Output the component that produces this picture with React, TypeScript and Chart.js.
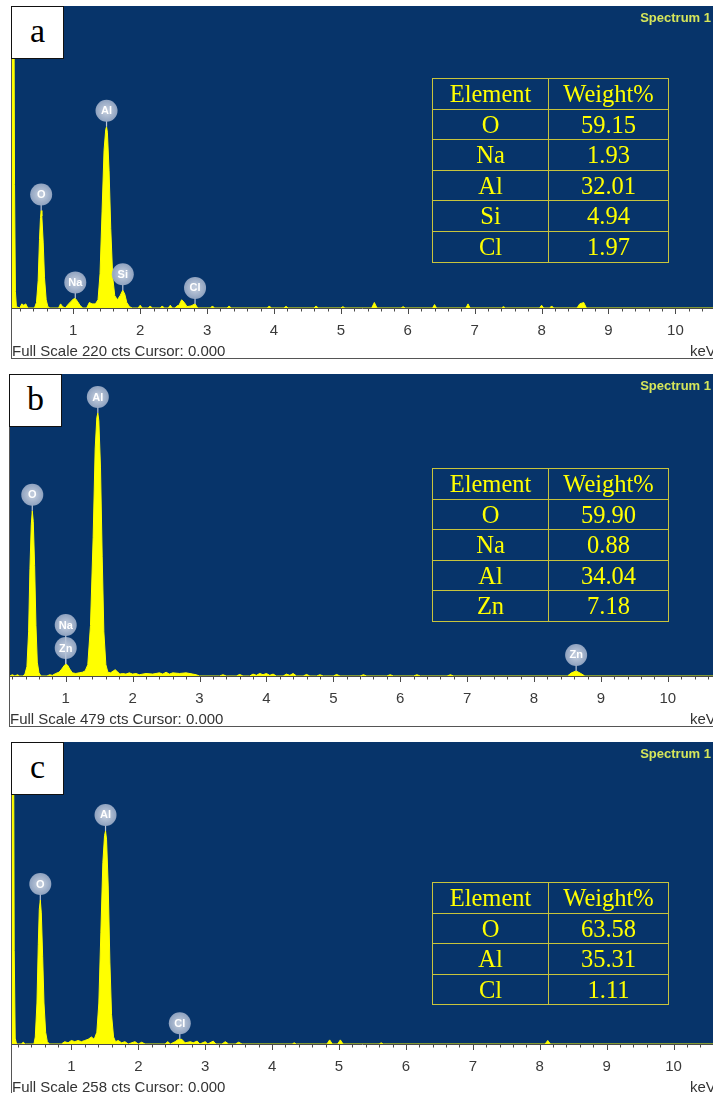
import React, { useEffect, useRef } from 'react';
import { Chart, registerables } from 'chart.js';

Chart.register(...registerables);

// ---------- data ----------
const TICK_VALUES = [1, 2, 3, 4, 5, 6, 7, 8, 9, 10];

// Panel a  (Full Scale 220 cts)
const SPECTRUM_A: [number, number][] = [
  [0.084, 240], [0.112, 240], [0.122, 90], [0.135, 12], [0.15, 1],
  [0.2, 0], [0.23, 3], [0.26, 2], [0.29, 3], [0.32, 0],
  [0.42, 0], [0.45, 4], [0.475, 20], [0.495, 50], [0.51, 66], [0.52, 71], [0.53, 67], [0.55, 48], [0.57, 22], [0.595, 6], [0.62, 1], [0.65, 0],
  [0.78, 0], [0.81, 3], [0.84, 1], [0.88, 0], [0.93, 3], [0.97, 5], [1.0, 6.5], [1.03, 7], [1.06, 5], [1.1, 2], [1.14, 0],
  [1.2, 0], [1.24, 4], [1.28, 3], [1.33, 3], [1.37, 6],
  [1.4, 25], [1.43, 70], [1.46, 115], [1.485, 130], [1.497, 132], [1.51, 128], [1.535, 100], [1.56, 58], [1.59, 22], [1.62, 9],
  [1.66, 6], [1.7, 9], [1.74, 13], [1.77, 10], [1.8, 4], [1.84, 1], [1.88, 0],
  [1.97, 0], [2.0, 2], [2.03, 0], [2.12, 0], [2.15, 1.5], [2.18, 0], [2.3, 0], [2.33, 1.5], [2.36, 0],
  [2.42, 0], [2.45, 2], [2.48, 0], [2.52, 0], [2.55, 1.5], [2.58, 2], [2.62, 6], [2.66, 4], [2.7, 1], [2.76, 1.5], [2.82, 3], [2.86, 0],
  [3.05, 0], [3.08, 1.5], [3.11, 0], [3.3, 0], [3.33, 1.5], [3.36, 0], [3.9, 0], [3.93, 1.5], [3.96, 0],
  [4.15, 0], [4.18, 1.2], [4.21, 0], [4.6, 0], [4.63, 1.5], [4.66, 0], [5.0, 0], [5.03, 1], [5.06, 0],
  [5.46, 0], [5.5, 4], [5.54, 0], [5.9, 0], [5.93, 1], [5.96, 0], [6.37, 0], [6.4, 2.5], [6.43, 0],
  [6.87, 0], [6.9, 3], [6.93, 0], [7.4, 0], [7.43, 1], [7.46, 0], [7.97, 0], [8.0, 2], [8.03, 0],
  [8.12, 0], [8.15, 1.5], [8.18, 0], [8.53, 0], [8.57, 3], [8.63, 4], [8.67, 0], [10.6, 0],
];
const LABEL_EL_A = ['O', 'Na', 'Al', 'Si', 'Cl'];
const LABEL_KEV_A = [0.52, 1.03, 1.497, 1.74, 2.82];
const LABEL_CTS_A = [71, 7, 132, 13, 3];
const LABEL_STACK_A = [0, 0, 0, 0, 0];
const TABLE_EL_A = ['O', 'Na', 'Al', 'Si', 'Cl'];
const TABLE_WT_A = ['59.15', '1.93', '32.01', '4.94', '1.97'];

// Panel b  (Full Scale 479 cts)
const SPECTRUM_B: [number, number][] = [
  [0.167, 0], [0.2, 2], [0.24, 0], [0.28, 2], [0.31, 0], [0.36, 0], [0.39, 3],
  [0.42, 15], [0.445, 70], [0.465, 170], [0.485, 240], [0.5, 262], [0.515, 245], [0.535, 175], [0.555, 80], [0.575, 22], [0.6, 5], [0.63, 0],
  [0.72, 0], [0.76, 2], [0.8, 1], [0.85, 4], [0.9, 6], [0.94, 11], [0.98, 17], [1.0, 19], [1.03, 17], [1.06, 11], [1.1, 5], [1.15, 4], [1.2, 5], [1.25, 6], [1.29, 8],
  [1.33, 18], [1.37, 80], [1.41, 220], [1.44, 360], [1.465, 410], [1.48, 417], [1.495, 405], [1.52, 330], [1.545, 190], [1.57, 70], [1.6, 18], [1.63, 6],
  [1.67, 5], [1.71, 8], [1.74, 10], [1.77, 7], [1.81, 3], [1.85, 4], [1.9, 3], [1.95, 5], [2.0, 3], [2.05, 4], [2.1, 2], [2.2, 4], [2.3, 3],
  [2.4, 5], [2.45, 3], [2.5, 6], [2.55, 3], [2.6, 5], [2.7, 4], [2.8, 5], [2.9, 3], [2.95, 2], [3.0, 0],
  [3.3, 0], [3.35, 2], [3.4, 0], [3.55, 0], [3.6, 2.5], [3.65, 0], [3.75, 0], [3.8, 3], [3.85, 1], [3.9, 4], [3.95, 2], [4.0, 4], [4.05, 1], [4.1, 3], [4.15, 0],
  [4.25, 0], [4.3, 3], [4.35, 1], [4.4, 4], [4.45, 0], [4.55, 0], [4.6, 2.5], [4.65, 0], [4.75, 0], [4.8, 2], [4.85, 0], [5.0, 0], [5.05, 2.5], [5.1, 0],
  [5.4, 0], [5.45, 2], [5.5, 0], [5.8, 0], [5.85, 2], [5.9, 0], [6.2, 0], [6.25, 2], [6.3, 0], [6.7, 0], [6.75, 2], [6.8, 0],
  [8.5, 0], [8.56, 5], [8.63, 8], [8.7, 4], [8.76, 0], [10.7, 0],
];
const LABEL_EL_B = ['O', 'Al', 'Zn', 'Na', 'Zn'];
const LABEL_KEV_B = [0.5, 1.48, 1.0, 1.0, 8.63];
const LABEL_CTS_B = [262, 417, 19, 19, 8];
const LABEL_STACK_B = [0, 0, 0, 1, 0];
const TABLE_EL_B = ['O', 'Na', 'Al', 'Zn'];
const TABLE_WT_B = ['59.90', '0.88', '34.04', '7.18'];

// Panel c  (Full Scale 258 cts)
const SPECTRUM_C: [number, number][] = [
  [0.112, 280], [0.135, 280], [0.145, 80], [0.16, 5], [0.18, 0],
  [0.25, 0], [0.28, 1.5], [0.31, 0],
  [0.44, 0], [0.46, 6], [0.485, 35], [0.505, 85], [0.52, 115], [0.535, 123], [0.55, 112], [0.57, 75], [0.59, 35], [0.615, 10], [0.64, 2], [0.67, 0],
  [0.85, 0], [0.9, 2], [0.95, 1], [1.0, 3], [1.05, 2], [1.1, 3], [1.15, 2], [1.2, 3], [1.25, 4], [1.3, 6], [1.34, 4],
  [1.38, 10], [1.41, 35], [1.44, 95], [1.47, 155], [1.495, 178], [1.51, 182], [1.525, 175], [1.55, 135], [1.575, 70], [1.6, 25], [1.63, 6], [1.66, 2],
  [1.7, 3], [1.75, 1], [1.8, 2], [1.85, 0], [1.95, 2], [2.0, 0], [2.05, 1.5], [2.1, 0],
  [2.4, 0], [2.44, 2], [2.48, 0], [2.55, 2], [2.6, 4], [2.65, 4], [2.7, 1], [2.78, 2], [2.82, 1], [2.88, 2.5], [2.92, 0],
  [3.0, 2], [3.04, 0], [3.12, 2.5], [3.16, 0], [3.25, 0], [3.3, 2], [3.35, 0], [3.45, 0], [3.5, 1.5], [3.55, 0],
  [4.3, 0], [4.33, 1], [4.36, 0], [4.82, 0], [4.86, 3.5], [4.9, 0], [4.98, 0], [5.02, 3.5], [5.06, 0],
  [5.6, 0], [5.63, 1], [5.66, 0], [8.08, 0], [8.12, 3], [8.16, 0], [10.6, 0],
];
const LABEL_EL_C = ['O', 'Al', 'Cl'];
const LABEL_KEV_C = [0.535, 1.51, 2.62];
const LABEL_CTS_C = [123, 182, 4];
const LABEL_STACK_C = [0, 0, 0];
const TABLE_EL_C = ['O', 'Al', 'Cl'];
const TABLE_WT_C = ['63.58', '35.31', '1.11'];

// ---------- styling ----------
const BLUE = '#07346a';
const YELLOW = '#ffff00';
const SANS = '"Liberation Sans", Arial, sans-serif';
const SERIF = '"Liberation Serif", "Times New Roman", serif';

type PanelProps = {
  letter: string;
  top: number;
  left: number;
  xMin: number;
  xMax: number;
  fullScale: number;
  spectrum: [number, number][];
  labelEl: string[];
  labelKev: number[];
  labelCts: number[];
  labelStack: number[];
  tableEl: string[];
  tableWt: string[];
  tableTop: number;
};

const PLOT_H = 302;
const AXIS_H = 50;

function Panel(p: PanelProps) {
  const ref = useRef<HTMLCanvasElement | null>(null);
  const width = 713 - p.left - 1;

  useEffect(() => {
    if (!ref.current) return;
    const bg = {
      id: 'bg',
      beforeDraw(chart: any) {
        const { ctx, chartArea } = chart;
        ctx.save();
        ctx.fillStyle = '#ffffff';
        ctx.fillRect(0, 0, chart.width, chart.height);
        ctx.fillStyle = BLUE;
        ctx.fillRect(chartArea.left, chartArea.top, chartArea.right - chartArea.left, chartArea.bottom - chartArea.top);
        ctx.restore();
      },
    };
    const ticks = {
      id: 'minorTicks',
      afterDraw(chart: any) {
        const { ctx, chartArea } = chart;
        const xs = chart.scales.x;
        ctx.save();
        ctx.strokeStyle = '#4a4a4a';
        ctx.lineWidth = 1;
        ctx.beginPath();
        ctx.moveTo(chartArea.left, chartArea.bottom + 0.5);
        ctx.lineTo(chartArea.right, chartArea.bottom + 0.5);
        ctx.stroke();
        const start = Math.ceil(p.xMin / 0.2);
        const end = Math.floor(p.xMax / 0.2);
        for (let i = start; i <= end; i++) {
          const v = i * 0.2;
          const x = Math.round(xs.getPixelForValue(v)) + 0.5;
          const major = i % 5 === 0;
          ctx.beginPath();
          ctx.moveTo(x, chartArea.bottom);
          ctx.lineTo(x, chartArea.bottom + (major ? 6 : 3.5));
          ctx.stroke();
        }
        ctx.restore();
      },
    };
    const labels = {
      id: 'peakLabels',
      afterDatasetsDraw(chart: any) {
        const { ctx } = chart;
        const xs = chart.scales.x;
        const ys = chart.scales.y;
        const r = 11;
        ctx.save();
        p.labelEl.forEach((el, i) => {
          const x = xs.getPixelForValue(p.labelKev[i]);
          const yTop = ys.getPixelForValue(p.labelCts[i]);
          const cy = yTop - 16 - p.labelStack[i] * 23;
          ctx.strokeStyle = '#b8c4d8';
          ctx.lineWidth = 1.2;
          ctx.beginPath();
          ctx.moveTo(x, cy + r - 1);
          ctx.lineTo(x, yTop);
          ctx.stroke();
          const g = ctx.createRadialGradient(x, cy, 2, x, cy, r);
          g.addColorStop(0, 'rgba(196,206,222,0.97)');
          g.addColorStop(1, 'rgba(150,168,196,0.95)');
          ctx.fillStyle = g;
          ctx.beginPath();
          ctx.arc(x, cy, r, 0, Math.PI * 2);
          ctx.fill();
          ctx.fillStyle = '#ffffff';
          ctx.font = `bold 11px ${SANS}`;
          ctx.textAlign = 'center';
          ctx.textBaseline = 'middle';
          ctx.fillText(el, x, cy + 0.5);
        });
        ctx.restore();
      },
    };
    const chart = new Chart(ref.current, {
      type: 'line',
      data: {
        datasets: [
          {
            data: p.spectrum.map(([x, y]) => ({ x, y })),
            borderColor: YELLOW,
            backgroundColor: YELLOW,
            borderWidth: 1,
            pointRadius: 0,
            fill: 'origin',
            tension: 0,
          },
        ],
      },
      options: {
        animation: false,
        responsive: false,
        maintainAspectRatio: false,
        layout: { padding: 0 },
        plugins: {
          legend: { display: false },
          tooltip: { enabled: false },
          title: { display: false },
        },
        scales: {
          x: {
            type: 'linear',
            min: p.xMin,
            max: p.xMax,
            grid: { display: false, drawTicks: false },
            border: { display: false },
            afterBuildTicks: (s: any) => {
              s.ticks = TICK_VALUES.map((v) => ({ value: v }));
            },
            afterFit: (s: any) => {
              s.height = AXIS_H;
              s.paddingLeft = 0;
              s.paddingRight = 0;
            },
            ticks: {
              padding: 14,
              color: '#3a3a3a',
              font: { family: SANS, size: 15 },
              maxRotation: 0,
              autoSkip: false,
              callback: (v: any) => String(v),
            },
          },
          y: { display: false, min: 0, max: p.fullScale },
        },
      } as any,
      plugins: [bg, ticks, labels],
    });
    return () => chart.destroy();
  }, []);

  const rowH = 30.6;
  const tableRows = [['Element', 'Weight%'], ...p.tableEl.map((e, i) => [e, p.tableWt[i]])];

  return (
    <>
      <div
        style={{
          position: 'absolute',
          left: p.left,
          top: p.top,
          width: 713 - p.left + 5,
          height: PLOT_H + AXIS_H + 1,
          borderLeft: '1px solid #555',
          borderBottom: '1px solid #555',
          boxSizing: 'border-box',
        }}
      />
      <canvas
        ref={ref}
        width={width}
        height={PLOT_H + AXIS_H}
        style={{ position: 'absolute', left: p.left + 1, top: p.top, width, height: PLOT_H + AXIS_H, display: 'block' }}
      />
      <div
        style={{
          position: 'absolute',
          left: p.left,
          top: p.top,
          width: 53,
          height: 53,
          boxSizing: 'border-box',
          background: '#fff',
          border: '1px solid #111',
          fontFamily: SERIF,
          fontSize: 34,
          lineHeight: '48px',
          textAlign: 'center',
          color: '#000',
        }}
      >
        {p.letter}
      </div>
      <div
        style={{
          position: 'absolute',
          right: 2,
          top: p.top + 4,
          fontFamily: SANS,
          fontWeight: 'bold',
          fontSize: 13,
          lineHeight: '16px',
          color: '#d6e65a',
          whiteSpace: 'nowrap',
        }}
      >
        Spectrum 1
      </div>
      <div
        style={{
          position: 'absolute',
          left: p.left + 1,
          top: p.top + PLOT_H + 34,
          fontFamily: SANS,
          fontSize: 15,
          lineHeight: '18px',
          color: '#333',
          whiteSpace: 'nowrap',
        }}
      >
        {`Full Scale ${p.fullScale} cts Cursor: 0.000`}
      </div>
      <div
        style={{
          position: 'absolute',
          left: 690,
          top: p.top + PLOT_H + 34,
          fontFamily: SANS,
          fontSize: 15,
          lineHeight: '18px',
          color: '#333',
          whiteSpace: 'nowrap',
        }}
      >
        keV
      </div>
      <div
        style={{
          position: 'absolute',
          left: 432,
          top: p.tableTop,
          width: 237,
          borderTop: '1.5px solid #c8c43c',
          borderLeft: '1.5px solid #c8c43c',
          boxSizing: 'border-box',
        }}
      >
        {tableRows.map((row, ri) => (
          <div key={ri} style={{ display: 'flex' }}>
            {row.map((cell, ci) => (
              <div
                key={ci}
                style={{
                  width: ci === 0 ? 116 : 120,
                  height: rowH,
                  lineHeight: `${rowH}px`,
                  boxSizing: 'border-box',
                  borderRight: '1.5px solid #c8c43c',
                  borderBottom: '1.5px solid #c8c43c',
                  textAlign: 'center',
                  fontFamily: SERIF,
                  fontSize: 24.5,
                  color: YELLOW,
                  whiteSpace: 'nowrap',
                }}
              >
                {cell}
              </div>
            ))}
          </div>
        ))}
      </div>
    </>
  );
}

export default function App() {
  return (
    <div
      style={{
        position: 'absolute',
        left: 0,
        top: 0,
        width: 713,
        height: 1093,
        overflow: 'hidden',
        background: '#ffffff',
      }}
    >
      <Panel
        letter="a"
        top={6}
        left={11}
        xMin={0.084}
        xMax={10.562}
        fullScale={220}
        spectrum={SPECTRUM_A}
        labelEl={LABEL_EL_A}
        labelKev={LABEL_KEV_A}
        labelCts={LABEL_CTS_A}
        labelStack={LABEL_STACK_A}
        tableEl={TABLE_EL_A}
        tableWt={TABLE_WT_A}
        tableTop={78}
      />
      <Panel
        letter="b"
        top={374}
        left={9}
        xMin={0.167}
        xMax={10.676}
        fullScale={479}
        spectrum={SPECTRUM_B}
        labelEl={LABEL_EL_B}
        labelKev={LABEL_KEV_B}
        labelCts={LABEL_CTS_B}
        labelStack={LABEL_STACK_B}
        tableEl={TABLE_EL_B}
        tableWt={TABLE_WT_B}
        tableTop={468}
      />
      <Panel
        letter="c"
        top={742}
        left={11}
        xMin={0.112}
        xMax={10.59}
        fullScale={258}
        spectrum={SPECTRUM_C}
        labelEl={LABEL_EL_C}
        labelKev={LABEL_KEV_C}
        labelCts={LABEL_CTS_C}
        labelStack={LABEL_STACK_C}
        tableEl={TABLE_EL_C}
        tableWt={TABLE_WT_C}
        tableTop={882}
      />
    </div>
  );
}
